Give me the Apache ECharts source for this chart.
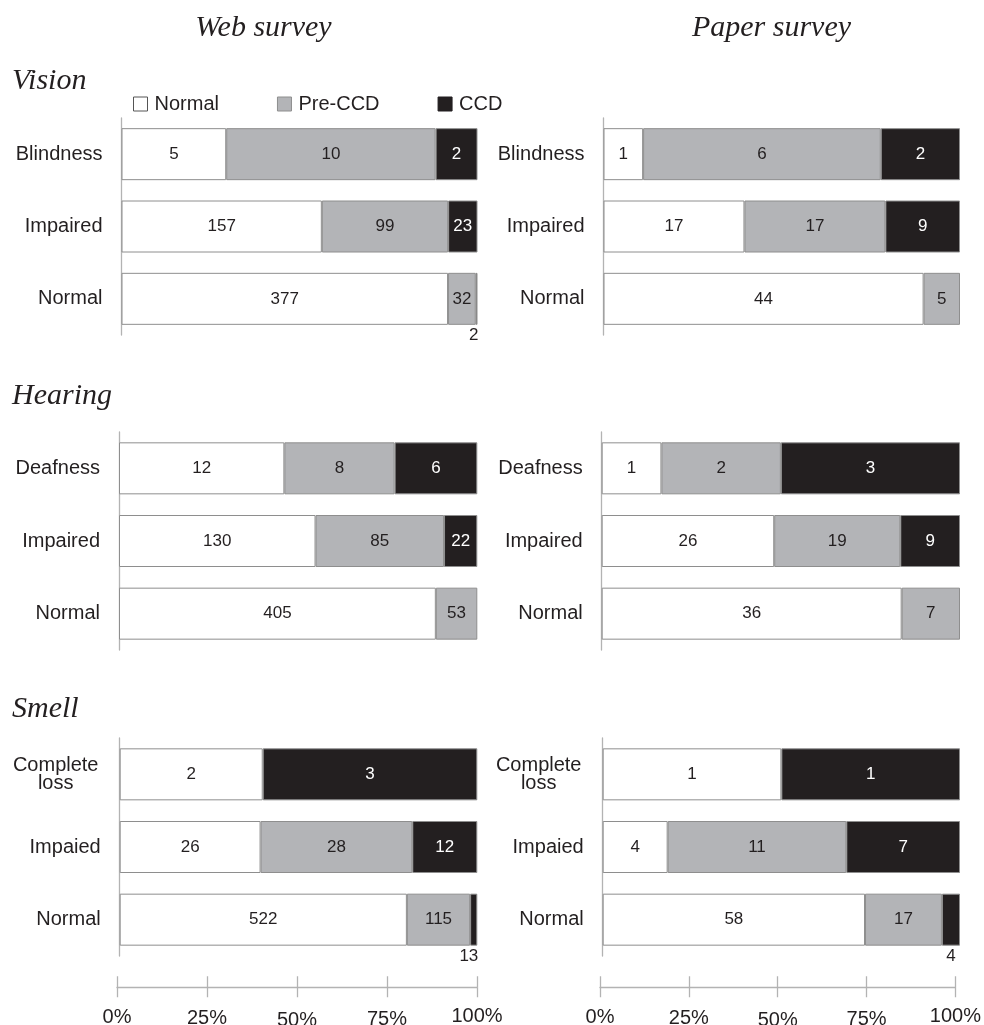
<!DOCTYPE html>
<html>
<head>
<meta charset="utf-8">
<script src="https://cdn.jsdelivr.net/npm/echarts@6/dist/echarts.min.js"></script>
<style>
  html, body { margin: 0; padding: 0; background: #ffffff; }
  #chart { width: 984px; height: 1025px; }
</style>
</head>
<body>
<div id="chart"></div>
<script>
// Survey columns and sense blocks
const surveys = ['Web survey', 'Paper survey'];
const senses = ['Vision', 'Hearing', 'Smell'];
const statusNames = ['Normal', 'Pre-CCD', 'CCD'];

// Levels of each sense (top to bottom)
const visionLevels = ['Blindness', 'Impaired', 'Normal'];
const hearingLevels = ['Deafness', 'Impaired', 'Normal'];
const smellLevels = ['Complete\nloss', 'Impaied', 'Normal'];

// Respondent counts per level, ordered as [Normal, Pre-CCD, CCD]
const webVision = [[5, 10, 2], [157, 99, 23], [377, 32, 2]];
const paperVision = [[1, 6, 2], [17, 17, 9], [44, 5, 0]];
const webHearing = [[12, 8, 6], [130, 85, 22], [405, 53, 0]];
const paperHearing = [[1, 2, 3], [26, 19, 9], [36, 7, 0]];
const webSmell = [[2, 0, 3], [26, 28, 12], [522, 115, 13]];
const paperSmell = [[1, 0, 1], [4, 11, 7], [58, 17, 4]];

// Share axis tick labels
const percentTicks = ['0%', '25%', '50%', '75%', '100%'];

// ---- layout and styling ----
const FONT = "'Liberation Sans', Arial, sans-serif";
const SERIF = "'Liberation Serif', 'Times New Roman', serif";
const INK = '#231f20';
const FILLS = ['#ffffff', '#b3b4b7', '#231f20'];
const EDGE = '#8e8e8e';
const AXIS = '#b3b3b3';

const panels = [
  { levels: visionLevels,  counts: webVision,    box: { left: 121.5, top: 118, width: 356,   height: 217 } },
  { levels: visionLevels,  counts: paperVision,  box: { left: 603.5, top: 118, width: 356.5, height: 217 } },
  { levels: hearingLevels, counts: webHearing,   box: { left: 119,   top: 432, width: 358.3, height: 218 } },
  { levels: hearingLevels, counts: paperHearing, box: { left: 601.7, top: 432, width: 358.3, height: 218 } },
  { levels: smellLevels,   counts: webSmell,     box: { left: 119.7, top: 738, width: 357.6, height: 218 } },
  { levels: smellLevels,   counts: paperSmell,   box: { left: 602.7, top: 738, width: 357.3, height: 218 } }
];
const scaleBoxes = [
  { left: 117, top: 987, width: 360, height: 1 },
  { left: 600, top: 987, width: 360, height: 1 }
];

const grid = [];
const xAxis = [];
const yAxis = [];
const series = [];

function segmentLabel(count, share, panelWidth, status) {
  const color = status === 2 ? '#ffffff' : INK;
  const base = { show: true, fontFamily: FONT, fontSize: 17, formatter: p => p.data.count };
  if (share < 0.06) {
    // narrow segment: count printed under the bar
    const segW = share * panelWidth;
    const textW = String(count).length * 9;
    if (textW > segW) {
      return Object.assign(base, { position: ['100%', '100%'], align: 'right', verticalAlign: 'top', offset: [1, 2], color: INK });
    }
    return Object.assign(base, { position: ['50%', '100%'], align: 'center', verticalAlign: 'top', offset: [0, 2], color: INK });
  }
  return Object.assign(base, { position: 'inside', color: color });
}

panels.forEach((panel, p) => {
  grid.push(Object.assign({ containLabel: false }, panel.box));
  xAxis.push({ type: 'value', gridIndex: p, min: 0, max: 1, show: false });
  yAxis.push({
    type: 'category',
    gridIndex: p,
    inverse: true,
    data: panel.levels.map(l => l.indexOf('\n') >= 0
      ? { value: l, textStyle: { align: 'center', padding: [0, 90, 16, 0], lineHeight: 18 } }
      : l),
    axisLine: { show: true, lineStyle: { color: AXIS, width: 1.3 } },
    axisTick: { show: false },
    axisLabel: { fontFamily: FONT, fontSize: 20, color: INK, margin: 19 }
  });
  const totals = panel.counts.map(r => r.reduce((a, b) => a + b, 0));
  statusNames.forEach((name, s) => {
    series.push({
      type: 'bar',
      name: name,
      stack: 'panel' + p,
      xAxisIndex: p,
      yAxisIndex: p,
      barWidth: 52,
      itemStyle: { color: FILLS[s], borderColor: EDGE, borderWidth: 1 },
      emphasis: { disabled: true },
      data: panel.counts.map((row, i) => {
        const count = row[s];
        if (!count) return null;
        const share = count / totals[i];
        return { value: share, count: count, label: segmentLabel(count, share, panel.box.width, s) };
      })
    });
  });
});

// Percentage scales under each column: one axis ticks upward, one downward with labels
const tickOffsets = [1, 2, 4, 3, 0];
const richTicks = {};
tickOffsets.forEach((o, i) => {
  richTicks['t' + i] = { fontFamily: FONT, fontSize: 20, color: INK, padding: [o, 0, 0, 0] };
});
scaleBoxes.forEach((box, k) => {
  const g = grid.length;
  grid.push(box);
  yAxis.push({ type: 'value', gridIndex: g, show: false, min: 0, max: 1 });
  xAxis.push({
    type: 'value', gridIndex: g, position: 'bottom', min: 0, max: 1, interval: 0.25,
    axisLine: { show: true, lineStyle: { color: AXIS, width: 1.3 } },
    axisTick: { show: true, inside: false, length: 10, lineStyle: { color: AXIS, width: 1.3 } },
    splitLine: { show: false },
    axisLabel: {
      margin: 19,
      formatter: v => { const i = Math.round(v / 0.25); return '{t' + i + '|' + percentTicks[i] + '}'; },
      rich: richTicks
    }
  });
  xAxis.push({
    type: 'value', gridIndex: g, position: 'bottom', min: 0, max: 1, interval: 0.25,
    axisLine: { show: false },
    axisTick: { show: true, inside: true, length: 11, lineStyle: { color: AXIS, width: 1.3 } },
    splitLine: { show: false },
    axisLabel: { show: false }
  });
});

// Column headings and block headings
const graphic = [];
const headingX = [263.5, 771.5];
surveys.forEach((t, i) => {
  graphic.push({ type: 'text', x: headingX[i], y: 28, style: { text: t, font: 'italic 30px ' + SERIF, fill: INK, textAlign: 'center', textVerticalAlign: 'middle' } });
});
const blockY = [81, 396, 709];
senses.forEach((t, i) => {
  graphic.push({ type: 'text', x: 12, y: blockY[i], style: { text: t, font: 'italic 30px ' + SERIF, fill: INK, textAlign: 'left', textVerticalAlign: 'middle' } });
});

const option = {
  backgroundColor: '#ffffff',
  animation: false,
  legend: {
    left: 128,
    top: 89,
    icon: 'rect',
    itemWidth: 14,
    itemHeight: 14,
    itemGap: 58,
    selectedMode: false,
    textStyle: { fontFamily: FONT, fontSize: 20, color: INK, padding: [0, 0, 0, 2] },
    data: [
      { name: 'Normal', itemStyle: { color: '#ffffff', borderColor: '#555555', borderWidth: 1 } },
      { name: 'Pre-CCD', itemStyle: { color: FILLS[1], borderColor: '#8e8e8e', borderWidth: 1 } },
      { name: 'CCD', itemStyle: { color: FILLS[2], borderColor: FILLS[2], borderWidth: 1 } }
    ]
  },
  graphic: graphic,
  grid: grid,
  xAxis: xAxis,
  yAxis: yAxis,
  series: series
};

const chart = echarts.init(document.getElementById('chart'), null, { renderer: 'canvas' });
chart.setOption(option);
</script>
</body>
</html>
